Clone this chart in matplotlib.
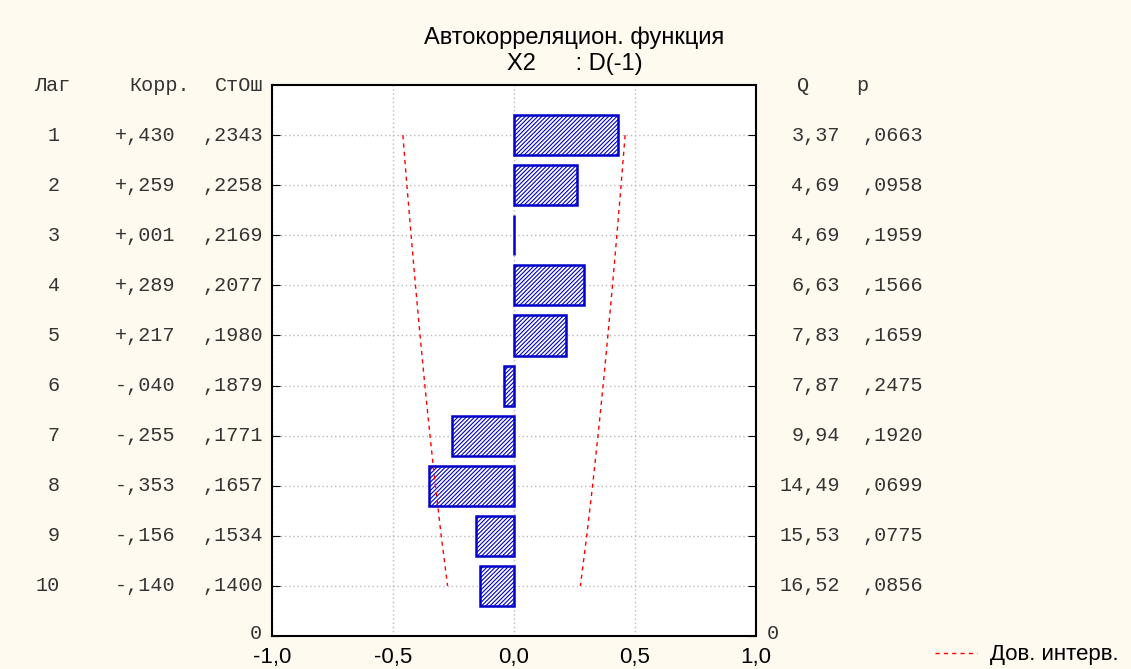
import matplotlib.pyplot as plt
import numpy as np

# Данные автокорреляционной функции
lags = np.arange(1, 11)
corr = [0.430, 0.259, 0.001, 0.289, 0.217, -0.040, -0.255, -0.353, -0.156, -0.140]
se = [0.2343, 0.2258, 0.2169, 0.2077, 0.1980, 0.1879, 0.1771, 0.1657, 0.1534, 0.1400]
q = [3.37, 4.69, 4.69, 6.63, 7.83, 7.87, 9.94, 14.49, 15.53, 16.52]
p = [0.0663, 0.0958, 0.1959, 0.1566, 0.1659, 0.2475, 0.1920, 0.0699, 0.0775, 0.0856]
xticks = [-1.0, -0.5, 0.0, 0.5, 1.0]

bg = '#fffaf0'
mono = 'Liberation Mono'
plt.rcParams['font.family'] = ['Liberation Sans', 'DejaVu Sans']
plt.rcParams['hatch.linewidth'] = 0.8

def frac(v, digits):
    # формат вида ",2343" без нуля
    return f"{abs(v):.{digits}f}"[1:].replace('.', ',')

fig = plt.figure(figsize=(11.31, 6.69), dpi=100, facecolor=bg)
ax = fig.add_axes([0.2405, 0.0493, 0.4279, 0.8236])

# лаг 1 сверху, лаг 10 снизу
ypos = 11 - lags
ax.barh(ypos, corr, height=0.8, color='white', edgecolor='#0000c8',
        hatch='////////', linewidth=1.8, zorder=3)

# доверительный интервал
ci = 1.96 * np.array(se)
line, = ax.plot(ci, ypos, color='red', ls=(0, (3, 3)), lw=1, zorder=4)
ax.plot(-ci, ypos, color='red', ls=(0, (3, 3)), lw=1, zorder=4)

ax.set_xlim(-1, 1)
ax.set_ylim(0, 11)
ax.set_xticks(xticks)
ax.set_xticklabels([f"{t:.1f}".replace('.', ',') for t in xticks], fontsize=16)
ax.set_yticks(range(0, 11))
ax.set_yticklabels([])
ax.tick_params(axis='y', direction='in', length=6, right=True)
ax.tick_params(axis='x', length=0, pad=8)
ax.grid(True, ls=(0, (1, 2)), color='#bbbbbb', lw=1, zorder=0)
for s in ax.spines.values():
    s.set_linewidth(1.5)

# колонки таблицы слева и справа
tr = ax.get_yaxis_transform()
kw = dict(transform=tr, family=mono, fontsize=14.5, va='center', color='#333333')
for y, lag, c, s, qq, pp in zip(ypos, lags, corr, se, q, p):
    sign = '+' if c >= 0 else '-'
    ax.text(-0.438, y, str(lag), ha='right', **kw)
    ax.text(-0.2004, y, sign + frac(c, 3), ha='right', **kw)
    ax.text(-0.0186, y, frac(s, 4), ha='right', **kw)
    ax.text(1.1736, y, f"{qq:.2f}".replace('.', ','), ha='right', **kw)
    ax.text(1.345, y, frac(pp, 4), ha='right', **kw)
ax.text(-0.455, 11, 'Лаг', ha='center', **kw)
ax.text(-0.169, 11, 'Корр.', ha='right', **kw)
ax.text(-0.0186, 11, 'СтОш', ha='right', **kw)
ax.text(1.097, 11, 'Q', ha='center', **kw)
ax.text(1.219, 11, 'p', ha='center', **kw)
# нулевая отметка по оси Y слева и справа
ax.text(-0.02, 0.05, '0', ha='right', **kw)
ax.text(1.022, 0.05, '0', ha='left', **kw)

fig.text(0.508, 0.944, 'Автокорреляцион. функция', ha='center', va='center', fontsize=17)
fig.text(0.508, 0.904, 'X2      : D(-1)', ha='center', va='center', fontsize=17)

fig.legend([line], ['Дов. интерв.'], loc='center', bbox_to_anchor=(0.908, 0.021),
           frameon=False, fontsize=16, handlelength=1.9, handletextpad=0.6)

plt.savefig('out.png', dpi=100, facecolor=bg)
